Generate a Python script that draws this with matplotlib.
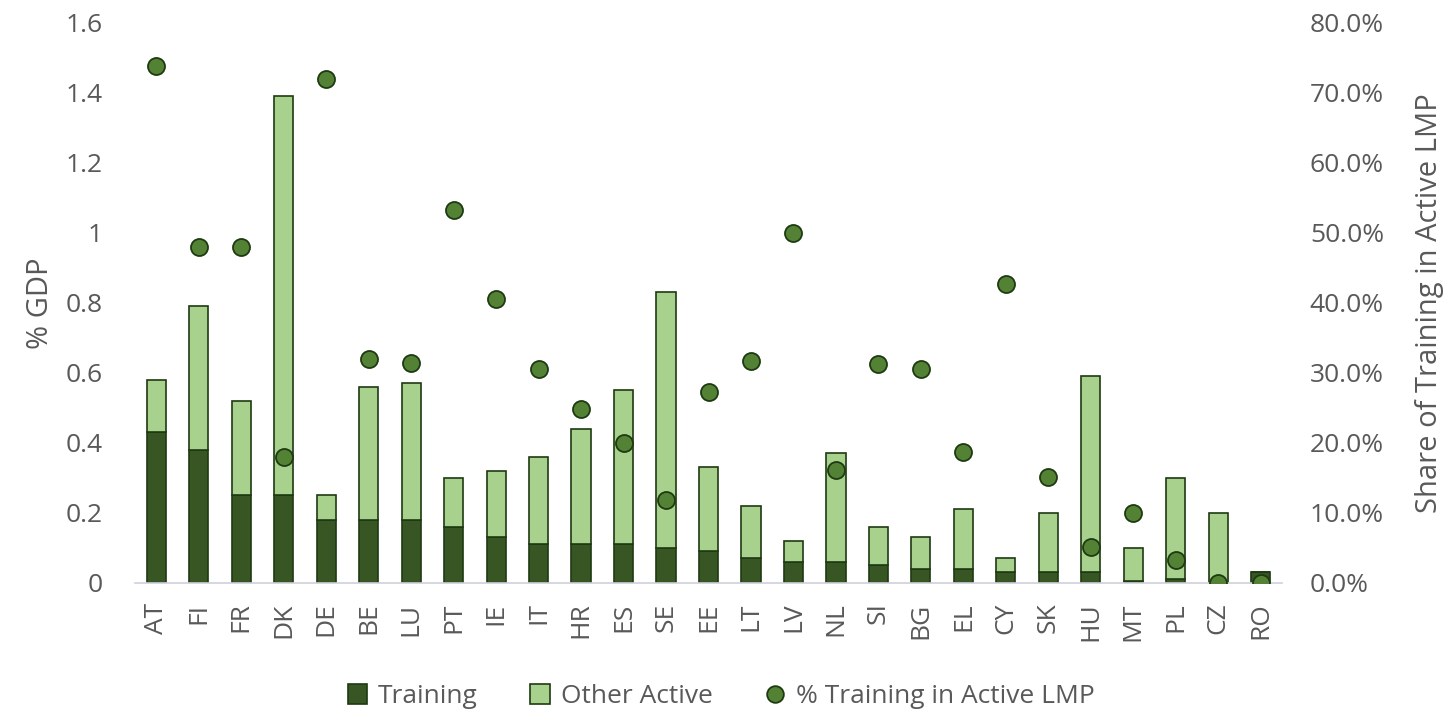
import matplotlib
matplotlib.use("Agg")
import matplotlib.pyplot as plt
from matplotlib.ticker import FuncFormatter
from matplotlib.lines import Line2D
from matplotlib.patches import Patch

countries = ["AT", "FI", "FR", "DK", "DE", "BE", "LU", "PT", "IE", "IT", "HR", "ES", "SE",
             "EE", "LT", "LV", "NL", "SI", "BG", "EL", "CY", "SK", "HU", "MT", "PL", "CZ", "RO"]
training = [0.43, 0.38, 0.25, 0.25, 0.18, 0.18, 0.18, 0.16, 0.13, 0.11, 0.11, 0.11, 0.10,
            0.09, 0.07, 0.06, 0.06, 0.05, 0.04, 0.04, 0.03, 0.03, 0.03, 0.005, 0.01, 0.0, 0.03]
total_active = [0.58, 0.79, 0.52, 1.39, 0.25, 0.56, 0.57, 0.30, 0.32, 0.36, 0.44, 0.55, 0.83,
                0.33, 0.22, 0.12, 0.37, 0.16, 0.13, 0.21, 0.07, 0.20, 0.59, 0.10, 0.30, 0.20, 0.03]
other_active = [round(t - tr, 3) for t, tr in zip(total_active, training)]
share_training = [73.9, 48.0, 48.0, 18.0, 72.0, 32.0, 31.4, 53.3, 40.6, 30.6, 24.9, 20.0, 11.9,
                  27.3, 31.7, 50.0, 16.1, 31.3, 30.6, 18.7, 42.7, 15.1, 5.2, 10.0, 3.3, 0.0, 0.0]

plt.rcParams['font.family'] = ['Open Sans', 'DejaVu Sans']
TXT = "#595959"
DARK = "#375623"
LIGHT = "#A9D18E"
EDGE = "#1E3A12"
DOT = "#548235"
FS = 19

fig = plt.figure(figsize=(14.48, 7.16), dpi=100)
ax = fig.add_axes([0.0932, 0.1858, 0.7922, 0.7821])
x = list(range(len(countries)))
w = 0.45
ax.bar(x, training, width=w, color=DARK, edgecolor=EDGE, linewidth=1.2, label="Training", zorder=2)
ax.bar(x, other_active, width=w, bottom=training, color=LIGHT, edgecolor=EDGE, linewidth=1.2,
       label="Other Active", zorder=2)
ax.set_xlim(-0.5, len(countries) - 0.5)
ax.set_ylim(0, 1.6)
ax.set_yticks([0, 0.2, 0.4, 0.6, 0.8, 1.0, 1.2, 1.4, 1.6])
ax.yaxis.set_major_formatter(FuncFormatter(lambda v, p: "0" if v == 0 else ("1" if abs(v - 1) < 1e-9 else f"{v:g}")))
ax.set_xticks(x)
ax.set_xticklabels(countries, rotation=90)
for s in ["top", "right", "left"]:
    ax.spines[s].set_visible(False)
ax.spines["bottom"].set_color("#D0D0DC")
ax.spines["bottom"].set_linewidth(1.2)
ax.tick_params(axis="both", length=0, colors=TXT, labelsize=FS)
ax.tick_params(axis="y", pad=23)
ax.tick_params(axis="x", pad=14)
ax.set_ylabel("% GDP", color=TXT, fontsize=21, labelpad=8)

ax2 = ax.twinx()
ax2.scatter(x, share_training, s=150, color=DOT, edgecolor=EDGE, linewidth=1.3, zorder=3)
ax2.set_ylim(0, 80)
ax2.set_yticks(range(0, 81, 10))
ax2.yaxis.set_major_formatter(FuncFormatter(lambda v, p: f"{v:.1f}%"))
for s in ["top", "right", "left", "bottom"]:
    ax2.spines[s].set_visible(False)
ax2.tick_params(axis="y", length=0, colors=TXT, labelsize=FS, pad=20)
ax2.set_ylabel("Share of Training in Active LMP", color=TXT, fontsize=21, labelpad=22)

handles = [Patch(facecolor=DARK, edgecolor=EDGE, linewidth=1.2),
           Patch(facecolor=LIGHT, edgecolor=EDGE, linewidth=1.2),
           Line2D([0], [0], marker="o", linestyle="none", markersize=12,
                  markerfacecolor=DOT, markeredgecolor=EDGE, markeredgewidth=1.3)]
labels = ["Training", "Other Active", "% Training in Active LMP"]
leg = fig.legend(handles, labels, loc="center", bbox_to_anchor=(0.498, 0.027), ncol=3,
                 frameon=False, fontsize=FS, handlelength=0.75, handleheight=0.75,
                 handletextpad=0.4, columnspacing=2.0)
for t in leg.get_texts():
    t.set_color(TXT)

fig.savefig("out.png", dpi=100, facecolor="white")
